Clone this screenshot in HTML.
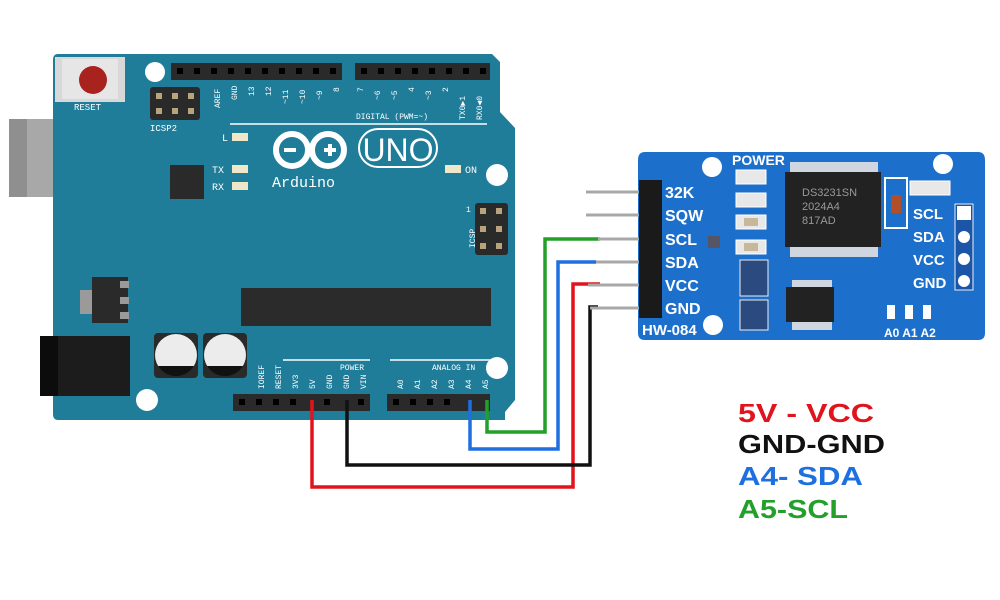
<!DOCTYPE html>
<html><head><meta charset="utf-8"><style>body{margin:0;background:#fff}svg{display:block}</style></head>
<body>
<svg width="1000" height="600" viewBox="0 0 1000 600" xmlns="http://www.w3.org/2000/svg" font-family="Liberation Sans, sans-serif">
<rect width="1000" height="600" fill="#fff"/>
<!-- USB -->
<rect x="53" y="110" width="10" height="10" fill="#9a9a9a"/>
<rect x="53" y="196" width="10" height="10" fill="#9a9a9a"/>
<rect x="9" y="119" width="107" height="78" fill="#a8a8a8"/>
<rect x="9" y="119" width="18" height="78" fill="#8f8f8f"/>
<!-- board -->
<path d="M58 54 L492 54 L500 62 L500 112 L515 128 L515 400 L505 412 L505 420 L58 420 Q53 420 53 414 L53 60 Q53 54 58 54 Z" fill="#1f7d9a"/>
<!-- reset -->
<rect x="55" y="57" width="70" height="45" fill="#d8d8d8"/>
<rect x="62" y="59" width="56" height="40" fill="#e6e6e6"/>
<circle cx="93" cy="80" r="14" fill="#a8221e"/>
<text x="74" y="110" font-size="9" fill="#fff" font-family="Liberation Mono, monospace">RESET</text>
<!-- holes -->
<circle cx="155" cy="72" r="10" fill="#fff"/>
<circle cx="497" cy="175" r="11" fill="#fff"/>
<circle cx="497" cy="368" r="11" fill="#fff"/>
<circle cx="147" cy="400" r="11" fill="#fff"/>
<!-- headers -->
<g fill="#2a2a2a">
<rect x="171" y="63" width="171" height="17"/>
<rect x="355" y="63" width="135" height="17"/>
<rect x="233" y="394" width="137" height="17"/>
<rect x="387" y="394" width="103" height="17"/>
<rect x="150" y="87" width="50" height="33" rx="3"/>
<rect x="475" y="203" width="33" height="52" rx="3"/>
</g>
<g fill="#000">
<rect x="177" y="68" width="6" height="6"/><rect x="194" y="68" width="6" height="6"/><rect x="211" y="68" width="6" height="6"/><rect x="228" y="68" width="6" height="6"/><rect x="245" y="68" width="6" height="6"/><rect x="262" y="68" width="6" height="6"/><rect x="279" y="68" width="6" height="6"/><rect x="296" y="68" width="6" height="6"/><rect x="313" y="68" width="6" height="6"/><rect x="330" y="68" width="6" height="6"/>
<rect x="361" y="68" width="6" height="6"/><rect x="378" y="68" width="6" height="6"/><rect x="395" y="68" width="6" height="6"/><rect x="412" y="68" width="6" height="6"/><rect x="429" y="68" width="6" height="6"/><rect x="446" y="68" width="6" height="6"/><rect x="463" y="68" width="6" height="6"/><rect x="480" y="68" width="6" height="6"/>
<rect x="239" y="399" width="6" height="6"/><rect x="256" y="399" width="6" height="6"/><rect x="273" y="399" width="6" height="6"/><rect x="290" y="399" width="6" height="6"/><rect x="324" y="399" width="6" height="6"/><rect x="358" y="399" width="6" height="6"/>
<rect x="393" y="399" width="6" height="6"/><rect x="410" y="399" width="6" height="6"/><rect x="427" y="399" width="6" height="6"/><rect x="444" y="399" width="6" height="6"/>
</g>
<!-- top pin labels -->
<g fill="#fff" font-size="8" font-family="Liberation Mono, monospace">
<text transform="translate(220,108) rotate(-90)">AREF</text>
<text transform="translate(237,100) rotate(-90)">GND</text>
<text transform="translate(254,96) rotate(-90)">13</text>
<text transform="translate(271,96) rotate(-90)">12</text>
<text transform="translate(288,104) rotate(-90)">~11</text>
<text transform="translate(305,104) rotate(-90)">~10</text>
<text transform="translate(322,100) rotate(-90)">~9</text>
<text transform="translate(339,92) rotate(-90)">8</text>
<text transform="translate(363,92) rotate(-90)">7</text>
<text transform="translate(380,100) rotate(-90)">~6</text>
<text transform="translate(397,100) rotate(-90)">~5</text>
<text transform="translate(414,92) rotate(-90)">4</text>
<text transform="translate(431,100) rotate(-90)">~3</text>
<text transform="translate(448,92) rotate(-90)">2</text>
<text transform="translate(465,120) rotate(-90)">TX0▶1</text>
<text transform="translate(482,120) rotate(-90)">RX0◀0</text>
<text transform="translate(264,389) rotate(-90)">IOREF</text>
<text transform="translate(281,389) rotate(-90)">RESET</text>
<text transform="translate(298,389) rotate(-90)">3V3</text>
<text transform="translate(315,389) rotate(-90)">5V</text>
<text transform="translate(332,389) rotate(-90)">GND</text>
<text transform="translate(349,389) rotate(-90)">GND</text>
<text transform="translate(366,389) rotate(-90)">VIN</text>
<text transform="translate(403,389) rotate(-90)">A0</text>
<text transform="translate(420,389) rotate(-90)">A1</text>
<text transform="translate(437,389) rotate(-90)">A2</text>
<text transform="translate(454,389) rotate(-90)">A3</text>
<text transform="translate(471,389) rotate(-90)">A4</text>
<text transform="translate(488,389) rotate(-90)">A5</text>
<text transform="translate(475,248) rotate(-90)">ICSP</text>
<text x="466" y="212">1</text>
</g>
<g fill="#b8a47a">
<rect x="156" y="93" width="6" height="6"/><rect x="172" y="93" width="6" height="6"/><rect x="188" y="93" width="6" height="6"/>
<rect x="156" y="108" width="6" height="6"/><rect x="172" y="108" width="6" height="6"/><rect x="188" y="108" width="6" height="6"/>
<rect x="480" y="208" width="6" height="6"/><rect x="496" y="208" width="6" height="6"/>
<rect x="480" y="226" width="6" height="6"/><rect x="496" y="226" width="6" height="6"/>
<rect x="480" y="243" width="6" height="6"/><rect x="496" y="243" width="6" height="6"/>
</g>
<text x="150" y="131" font-size="9" fill="#fff" font-family="Liberation Mono, monospace">ICSP2</text>
<text x="356" y="119" font-size="8" fill="#fff" font-family="Liberation Mono, monospace">DIGITAL (PWM=~)</text>
<line x1="230" y1="124" x2="487" y2="124" stroke="#fff" stroke-width="1.5"/>
<!-- leds -->
<g fill="#f0e6c8"><rect x="232" y="133" width="16" height="8"/><rect x="232" y="165" width="16" height="8"/><rect x="232" y="182" width="16" height="8"/><rect x="445" y="165" width="16" height="8"/></g>
<g fill="#fff" font-size="10" font-family="Liberation Mono, monospace"><text x="222" y="141">L</text><text x="212" y="173">TX</text><text x="212" y="190">RX</text><text x="465" y="173">ON</text></g>
<rect x="170" y="165" width="34" height="34" fill="#2a2a2a"/>
<!-- logo -->
<circle cx="292" cy="150" r="16" fill="none" stroke="#fff" stroke-width="6"/>
<circle cx="328" cy="150" r="16" fill="none" stroke="#fff" stroke-width="6"/>
<rect x="284" y="148" width="12" height="4" fill="#fff"/>
<rect x="324" y="148" width="12" height="4" fill="#fff"/><rect x="328" y="144" width="4" height="12" fill="#fff"/>
<rect x="359" y="129" width="78" height="38" rx="19" fill="none" stroke="#fff" stroke-width="2"/>
<text x="398" y="161" font-size="32" fill="#fff" text-anchor="middle">UNO</text>
<text x="272" y="187" font-size="15" fill="#fff" font-family="Liberation Mono, monospace">Arduino</text>
<!-- big black -->
<rect x="241" y="288" width="250" height="38" fill="#2b2b2b"/>
<!-- regulator -->
<rect x="80" y="290" width="14" height="24" fill="#9a9a9a"/>
<rect x="92" y="277" width="36" height="46" fill="#2a2a2a"/>
<g fill="#9a9a9a"><rect x="120" y="281" width="9" height="7"/><rect x="120" y="297" width="9" height="7"/><rect x="120" y="312" width="9" height="7"/></g>
<!-- DC jack -->
<rect x="40" y="336" width="90" height="60" fill="#1c1c1c"/>
<rect x="40" y="336" width="18" height="60" fill="#0c0c0c"/>
<!-- caps -->
<rect x="154" y="333" width="44" height="45" rx="4" fill="#2a2a2a"/>
<rect x="203" y="333" width="44" height="45" rx="4" fill="#2a2a2a"/>
<circle cx="176" cy="355" r="21" fill="#ececec"/><path d="M158 366 A21 21 0 0 0 194 366 Z" fill="#111"/>
<circle cx="225" cy="355" r="21" fill="#ececec"/><path d="M207 366 A21 21 0 0 0 243 366 Z" fill="#111"/>
<!-- power labels -->
<line x1="283" y1="360" x2="370" y2="360" stroke="#fff" stroke-width="1.5"/>
<line x1="390" y1="360" x2="490" y2="360" stroke="#fff" stroke-width="1.5"/>
<text x="340" y="370" font-size="8" fill="#fff" font-family="Liberation Mono, monospace">POWER</text>
<text x="432" y="370" font-size="8" fill="#fff" font-family="Liberation Mono, monospace">ANALOG IN</text>
<!-- wires -->
<g fill="none" stroke-width="3.5">
<polyline points="312,400 312,487 573,487 573,284 600,284" stroke="#e0141c"/>
<polyline points="347,400 347,465 590,465 590,307 598,307" stroke="#111"/>
<polyline points="470,400 470,449 558,449 558,262 596,262" stroke="#1e6fe0"/>
<polyline points="487,400 487,432 545,432 545,239 600,239" stroke="#22a02a"/>
</g>
<!-- RTC module -->
<path d="M645 152 L978 152 Q985 152 985 160 L985 333 Q985 340 978 340 L645 340 Q638 340 638 333 L638 160 Q638 152 645 152 Z" fill="#1d6fcc"/>
<circle cx="712" cy="167" r="10" fill="#fff"/>
<circle cx="943" cy="164" r="10" fill="#fff"/>
<circle cx="713" cy="325" r="10" fill="#fff"/>
<g stroke="#a8a8a8" stroke-width="3">
<line x1="586" y1="192" x2="650" y2="192"/><line x1="586" y1="215" x2="650" y2="215"/>
<line x1="598" y1="239" x2="650" y2="239"/><line x1="596" y1="262" x2="650" y2="262"/>
<line x1="588" y1="285" x2="650" y2="285"/><line x1="590" y1="308" x2="650" y2="308"/>
</g>
<rect x="639" y="180" width="23" height="138" fill="#1a1a1a"/>
<g fill="#fff" font-weight="bold" font-size="16">
<text x="665" y="198">32K</text><text x="665" y="221">SQW</text><text x="665" y="245">SCL</text>
<text x="665" y="268">SDA</text><text x="665" y="291">VCC</text><text x="665" y="314">GND</text>
<text x="642" y="335" font-size="15">HW-084</text>
<text x="732" y="165" font-size="14">POWER</text>
<text x="913" y="219" font-size="15">SCL</text><text x="913" y="242" font-size="15">SDA</text>
<text x="913" y="265" font-size="15">VCC</text><text x="913" y="288" font-size="15">GND</text>
<text x="884" y="337" font-size="12">A0 A1 A2</text>
</g>
<!-- chips -->
<g fill="#cfd6e0">
<rect x="790" y="162" width="88" height="12"/><rect x="790" y="245" width="88" height="12"/>
<rect x="792" y="280" width="40" height="50"/>
</g>
<rect x="785" y="172" width="96" height="75" fill="#222"/>
<g fill="#999" font-size="11"><text x="802" y="196">DS3231SN</text><text x="802" y="210">2024A4</text><text x="802" y="224">817AD</text></g>
<rect x="786" y="287" width="48" height="35" fill="#222"/>
<!-- smd -->
<g fill="#e8e8e8" stroke="#fff"><rect x="736" y="170" width="30" height="14"/><rect x="736" y="193" width="30" height="14"/><rect x="736" y="215" width="30" height="14"/><rect x="736" y="240" width="30" height="14"/><rect x="910" y="181" width="40" height="14"/></g>
<g fill="#c8b89a"><rect x="744" y="218" width="14" height="8"/><rect x="744" y="243" width="14" height="8"/></g>
<rect x="885" y="178" width="22" height="50" fill="none" stroke="#fff" stroke-width="2"/>
<rect x="891" y="195" width="10" height="18" fill="#b0502a"/>
<rect x="740" y="260" width="28" height="36" fill="#2a4a80" stroke="#eee"/>
<rect x="740" y="300" width="28" height="30" fill="#2a4a80" stroke="#eee"/>
<rect x="708" y="236" width="12" height="12" fill="#556"/>
<rect x="955" y="204" width="18" height="86" fill="#1a55a8" stroke="#eee"/>
<g fill="#fff"><rect x="957" y="206" width="14" height="14"/><circle cx="964" cy="237" r="6"/><circle cx="964" cy="259" r="6"/><circle cx="964" cy="281" r="6"/></g>
<g fill="#fff"><rect x="887" y="305" width="8" height="14"/><rect x="905" y="305" width="8" height="14"/><rect x="923" y="305" width="8" height="14"/></g>
<!-- legend -->
<g font-weight="bold" font-size="26">
<text x="738" y="422" fill="#e0141c" textLength="136" lengthAdjust="spacingAndGlyphs">5V - VCC</text>
<text x="738" y="453" fill="#111" textLength="147" lengthAdjust="spacingAndGlyphs">GND-GND</text>
<text x="738" y="485" fill="#1e6fe0" textLength="125" lengthAdjust="spacingAndGlyphs">A4- SDA</text>
<text x="738" y="518" fill="#22a02a" textLength="110" lengthAdjust="spacingAndGlyphs">A5-SCL</text>
</g>
</svg>
</body></html>
